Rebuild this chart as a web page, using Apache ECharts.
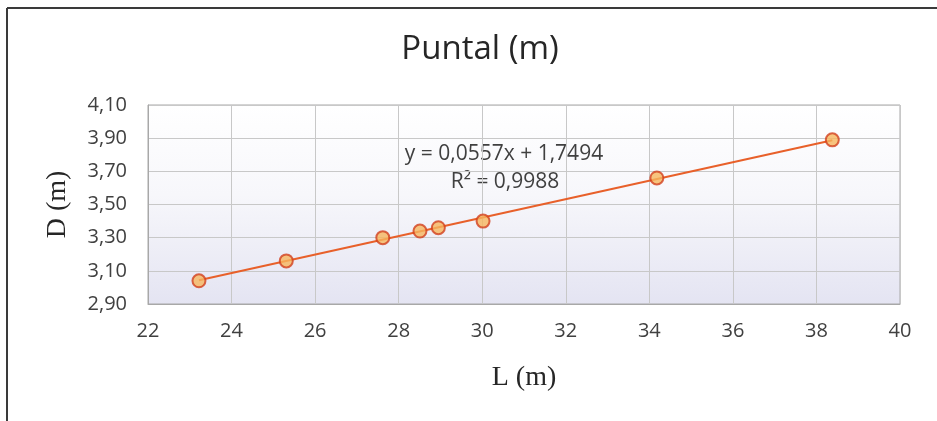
<!DOCTYPE html>
<html>
<head>
<meta charset="utf-8">
<script src="https://cdn.jsdelivr.net/npm/echarts@6/dist/echarts.min.js"></script>
<style>
  html, body { margin: 0; padding: 0; background: #ffffff; }
  #chart { width: 937px; height: 421px; }
</style>
</head>
<body>
<div id="chart"></div>
<script>
// Eslora (L) and puntal (D) of the sample vessels, in metres
const eslora = [23.22, 25.31, 27.62, 28.51, 28.95, 30.02, 34.18, 38.38];
const puntal = [3.04, 3.16, 3.30, 3.34, 3.36, 3.40, 3.66, 3.89];

// Linear trend line y = a·x + b and its fit
const slope = 0.0557;
const intercept = 1.7494;
const rSquared = 0.9988;

const fmt = (v, d) => v.toFixed(d).replace('.', ',');

const points = eslora.map((x, i) => [x, puntal[i]]);
const xMin = Math.min(...eslora);
const xMax = Math.max(...eslora);
const trend = [xMin, xMax].map(x => [x, slope * x + intercept]);

const sans = '"Open Sans", Lato, sans-serif';
const serif = '"Liberation Serif", "DejaVu Serif", serif';

const chart = echarts.init(document.getElementById('chart'));
chart.setOption({
  animation: false,
  backgroundColor: '#ffffff',
  title: {
    text: 'Puntal (m)',
    left: 475,
    textAlign: 'center',
    top: 28,
    textStyle: { fontFamily: sans, fontWeight: 'normal', fontSize: 33, color: '#262626' }
  },
  grid: {
    left: 148, right: 37, top: 105, bottom: 117,
    show: true,
    borderColor: '#a8a8a8',
    borderWidth: 1,
    backgroundColor: new echarts.graphic.LinearGradient(0, 0, 0, 1, [
      { offset: 0, color: '#ffffff' },
      { offset: 0.45, color: '#f7f7fb' },
      { offset: 1, color: '#e4e4f2' }
    ])
  },
  xAxis: {
    type: 'value',
    min: 22, max: 40, interval: 2,
    name: 'L (m)',
    nameLocation: 'middle',
    nameGap: 60,
    nameTextStyle: { fontFamily: serif, fontSize: 28, color: '#262626' },
    axisLine: { show: true, lineStyle: { color: '#a8a8a8' } },
    axisTick: { show: false },
    axisLabel: { fontFamily: sans, fontSize: 20, color: '#404040', margin: 17 },
    splitLine: { show: true, lineStyle: { color: '#c8c8c8', width: 1 } }
  },
  yAxis: {
    type: 'value',
    min: 2.9, max: 4.1, interval: 0.2,
    name: 'D (m)',
    nameLocation: 'middle',
    nameGap: 76,
    nameTextStyle: { fontFamily: serif, fontSize: 28, color: '#262626' },
    axisLine: { show: true, lineStyle: { color: '#a8a8a8' } },
    axisTick: { show: false },
    axisLabel: {
      fontFamily: sans, fontSize: 20, color: '#404040', margin: 21,
      formatter: v => fmt(v, 2)
    },
    splitLine: { show: true, lineStyle: { color: '#c8c8c8', width: 1 } }
  },
  series: [
    {
      name: 'Tendencia',
      type: 'line',
      data: trend,
      symbol: 'none',
      lineStyle: { color: '#e8602a', width: 2 },
      z: 2
    },
    {
      name: 'Puntal',
      type: 'scatter',
      data: points,
      symbol: 'circle',
      symbolSize: 13,
      itemStyle: { color: '#f6b55e', borderColor: '#d2401e', borderWidth: 2 },
      z: 3
    }
  ],
  graphic: [
    // frame around the chart
    { type: 'line', shape: { x1: 7, y1: 8, x2: 937, y2: 8 }, style: { stroke: '#3a3a3a', lineWidth: 2 } },
    { type: 'line', shape: { x1: 7, y1: 8, x2: 7, y2: 421 }, style: { stroke: '#3a3a3a', lineWidth: 2 } },
    // trend line equation and coefficient of determination
    {
      type: 'text',
      x: 504, y: 154,
      style: {
        text: 'y = ' + fmt(slope, 4) + 'x + ' + fmt(intercept, 4),
        fontFamily: sans, fontSize: 21, fill: '#404040',
        align: 'center', verticalAlign: 'middle'
      }
    },
    {
      type: 'text',
      x: 505, y: 182,
      style: {
        text: 'R² = ' + fmt(rSquared, 4),
        fontFamily: sans, fontSize: 21, fill: '#404040',
        align: 'center', verticalAlign: 'middle'
      }
    }
  ]
});
</script>
</body>
</html>
